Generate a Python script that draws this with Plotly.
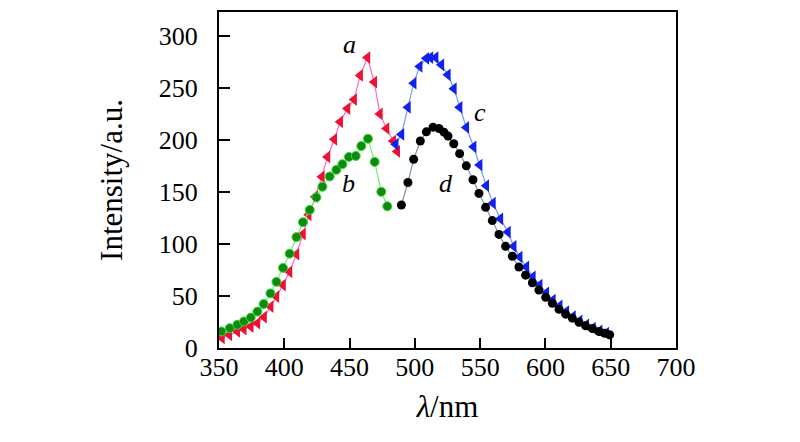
import plotly.graph_objects as go

# series a (red triangles)
a_x = [352.3, 357.9, 364.0, 369.0, 374.3, 379.4, 384.5, 389.6, 394.0, 399.0,
       404.0, 409.3, 414.3, 418.7, 423.7, 428.8, 433.1, 438.3, 442.8, 448.4,
       453.5, 458.1, 463.7, 468.9, 473.2, 478.3, 483.4, 486.5]
a_y = [9.6, 12.7, 15.9, 18.1, 20.6, 23.8, 29.6, 39.7, 49.3, 60.5,
       73.2, 90.1, 109.5, 128.0, 145.5, 164.6, 183.7, 200.6, 217.4, 230.2,
       238.8, 262.0, 279.2, 255.6, 225.0, 211.0, 199.0, 189.0]

# series b (green circles)
b_x = [351.8, 358.2, 364.1, 369.1, 374.3, 379.4, 384.2, 389.4, 394.0, 399.0,
       404.1, 409.3, 414.3, 419.5, 424.6, 429.2, 434.8, 439.9, 444.5, 449.5,
       454.7, 459.0, 464.1, 469.2, 474.3, 478.9]
b_y = [15.9, 19.1, 22.3, 25.5, 29.2, 35.0, 42.3, 52.5, 63.6, 77.0,
       90.7, 106.6, 120.9, 132.8, 144.8, 155.0, 164.9, 171.3, 176.7, 183.7,
       184.6, 194.2, 201.2, 178.9, 150.2, 136.2]

# series c (blue triangles)
c_x = [485.3, 489.7, 494.7, 499.1, 503.7, 508.8, 511.9, 515.9, 520.3, 525.3,
       529.9, 534.3, 539.4, 545.0, 549.6, 554.7, 559.8, 565.5, 571.3, 575.7,
       580.3, 585.4, 590.4, 595.6, 600.7, 605.7, 610.9, 616.0, 621.1, 626.2,
       631.3, 636.4, 641.5, 646.6]
c_y = [195.8, 205.3, 231.4, 254.6, 270.6, 278.5, 279.2, 279.2, 272.2, 262.6,
       249.3, 231.4, 212.0, 193.4, 175.9, 156.0, 139.2, 124.2, 111.4, 97.7,
       87.5, 77.9, 68.4, 60.5, 53.1, 46.1, 40.4, 35.0, 30.2, 26.1,
       22.3, 19.1, 16.5, 14.3]

# series d (black circles)
d_x = [489.7, 494.7, 499.1, 504.2, 508.8, 513.9, 518.5, 522.3, 525.4, 529.8,
       534.3, 539.4, 544.5, 549.1, 554.2, 559.3, 564.4, 569.5, 574.7, 579.7,
       584.8, 590.0, 595.0, 600.2, 605.3, 610.4, 615.5, 620.6, 625.7, 630.8,
       636.0, 641.1, 645.6, 649.2]
d_y = [137.5, 159.1, 181.5, 199.0, 207.8, 212.3, 211.0, 207.5, 203.7, 196.4,
       186.8, 175.1, 161.7, 148.6, 135.2, 122.5, 109.2, 97.7, 88.2, 77.9,
       70.0, 62.7, 55.7, 48.7, 43.0, 37.2, 32.5, 28.7, 24.8, 21.3,
       18.7, 15.9, 14.2, 12.7]

labels = ['a', 'b', 'c', 'd']
label_x = [450, 449, 550, 524]
label_y = [292, 158, 226, 158]

serif = 'Liberation Serif'

fig = go.Figure()

fig.add_trace(go.Scatter(x=a_x, y=a_y, mode='lines+markers',
                         line=dict(color='#ff66cc', width=1.2),
                         marker=dict(symbol='triangle-left', size=11, color='#ee1133',
                                     line=dict(width=0))))
fig.add_trace(go.Scatter(x=b_x, y=b_y, mode='lines+markers',
                         line=dict(color='#77ee77', width=1.2),
                         marker=dict(symbol='circle', size=9, color='#118811',
                                     line=dict(color='#33dd33', width=1))))
fig.add_trace(go.Scatter(x=c_x, y=c_y, mode='lines+markers',
                         line=dict(color='#7799ff', width=1.2),
                         marker=dict(symbol='triangle-left', size=11, color='#1122ee',
                                     line=dict(width=0))))
fig.add_trace(go.Scatter(x=d_x, y=d_y, mode='lines+markers',
                         line=dict(color='#7799aa', width=1.2),
                         marker=dict(symbol='circle', size=9, color='#000000',
                                     line=dict(width=0))))

for t, lx, ly in zip(labels, label_x, label_y):
    fig.add_annotation(x=lx, y=ly, text='<i>' + t + '</i>', showarrow=False,
                       font=dict(family=serif, size=26, color='black'))

# page body has an 8px margin, so the margins are shifted to keep the frame in place
fig.update_layout(
    width=800, height=442,
    margin=dict(l=211, r=132, t=2, b=102),
    plot_bgcolor='white', paper_bgcolor='white',
    showlegend=False,
    font=dict(family=serif, size=26, color='black'),
)
fig.update_xaxes(range=[350, 700], dtick=50, tick0=350,
                 showline=True, linecolor='black', linewidth=2, mirror=True,
                 ticks='inside', ticklen=10, tickwidth=2, tickcolor='black',
                 ticklabelstandoff=-5,
                 showgrid=False, zeroline=False,
                 title=dict(text='<i>λ</i>/nm', standoff=14))
fig.update_yaxes(range=[0, 323], dtick=50, tick0=0,
                 showline=True, linecolor='black', linewidth=2, mirror=True,
                 ticks='inside', ticklen=11, tickwidth=2, tickcolor='black',
                 ticklabelstandoff=14,
                 showgrid=False, zeroline=False,
                 title=dict(text='Intensity/a.u.', standoff=27))

fig.write_html("out.html")
